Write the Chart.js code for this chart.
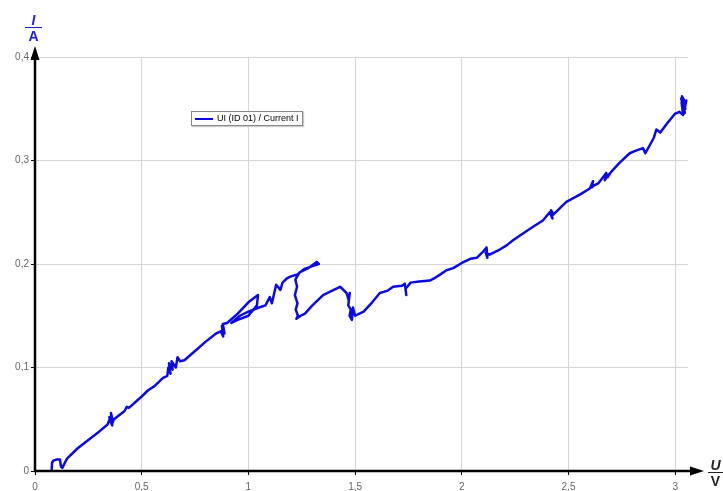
<!DOCTYPE html>
<html>
<head>
<meta charset="utf-8">
<script src="https://cdn.jsdelivr.net/npm/chart.js@4"></script>
<style>
  body { margin: 0; background: #fff; font-family: "Liberation Sans", Arial, sans-serif; }
  #wrap { position: relative; width: 723px; height: 491px; }
  #chart { position: absolute; left: 0; top: 0; }
  .frac { position: absolute; text-align: center; font-size: 14px; line-height: 13px; }
  .frac .num { font-style: italic; font-weight: bold; }
  .frac .den { font-weight: bold; border-top: 1.5px solid currentColor; padding-top: 2px; }
  #ylab { left: 25px; top: 14px; width: 17px; color: #1c1cd6; }
  #xlab { left: 708px; top: 459px; width: 15px; color: #222; }
  #legend { position: absolute; left: 191px; top: 111px; width: 110px; height: 13px;
            border: 1px solid #888; background: #fff; font-size: 9px; line-height: 13px;
            box-shadow: 1px 1px 1px #ccc; white-space: nowrap; }
  #legend span.sw { display: inline-block; width: 18px; height: 0; border-top: 2.5px solid #0a0ae6;
                    vertical-align: middle; margin: 0 4px 0 3px; }
</style>
</head>
<body>
<div id="wrap">
  <canvas id="chart" width="723" height="491"></canvas>
  <div id="ylab" class="frac"><div class="num">I</div><div class="den">A</div></div>
  <div id="xlab" class="frac"><div class="num">U</div><div class="den">V</div></div>
  <div id="legend"></div>
</div>
<script>
const seriesLabel = 'UI (ID 01) / Current I';

const xTicks = [0, 0.5, 1, 1.5, 2, 2.5, 3];
const yTicks = [0, 0.1, 0.2, 0.3, 0.4];

// voltage U (V), in measurement order
const voltage = [
  0.078, 0.080, 0.086, 0.100, 0.117, 0.122, 0.128, 0.150, 0.200, 0.250,
  0.300, 0.340, 0.350, 0.362, 0.356, 0.365, 0.348, 0.360, 0.370, 0.420,
  0.430, 0.440, 0.500, 0.530, 0.560, 0.600, 0.620, 0.625, 0.635, 0.628,
  0.645, 0.640, 0.660, 0.668, 0.680, 0.700, 0.750, 0.800, 0.850, 0.870,
  0.882, 0.876, 0.888, 0.880, 0.900, 0.950, 1.000, 1.045, 1.040, 1.000,
  0.950, 0.920, 0.960, 1.000, 1.050, 1.080, 1.100, 1.110, 1.130, 1.150,
  1.160, 1.180, 1.200, 1.230, 1.260, 1.300, 1.330, 1.320, 1.280, 1.240,
  1.220, 1.228, 1.218, 1.230, 1.222, 1.232, 1.225, 1.245, 1.265, 1.300,
  1.350, 1.400, 1.430, 1.460, 1.470, 1.475, 1.468, 1.480, 1.474, 1.485,
  1.490, 1.500, 1.520, 1.540, 1.580, 1.616, 1.650, 1.678, 1.720, 1.733,
  1.740, 1.736, 1.745, 1.760, 1.800, 1.850, 1.870, 1.900, 1.928, 1.960,
  2.000, 2.040, 2.070, 2.100, 2.116, 2.120, 2.112, 2.130, 2.178, 2.210,
  2.240, 2.290, 2.334, 2.380, 2.412, 2.425, 2.418, 2.430, 2.490, 2.553,
  2.600, 2.615, 2.608, 2.620, 2.640, 2.677, 2.670, 2.690, 2.684, 2.700,
  2.740, 2.787, 2.810, 2.849, 2.860, 2.900, 2.912, 2.930, 2.959, 2.998,
  3.020, 3.037, 3.030, 3.048, 3.028, 3.045, 3.032, 3.050, 3.036, 3.052,
  3.040, 3.045
];

// current I (A)
const current = [
  0.000, 0.008, 0.010, 0.011, 0.011, 0.004, 0.003, 0.012, 0.022, 0.030,
  0.038, 0.045, 0.050, 0.044, 0.056, 0.048, 0.052, 0.045, 0.050, 0.058,
  0.062, 0.061, 0.072, 0.078, 0.082, 0.090, 0.092, 0.100, 0.094, 0.104,
  0.098, 0.106, 0.100, 0.110, 0.106, 0.107, 0.116, 0.125, 0.133, 0.135,
  0.130, 0.140, 0.133, 0.142, 0.143, 0.152, 0.163, 0.170, 0.160, 0.150,
  0.146, 0.143, 0.150, 0.154, 0.158, 0.160, 0.168, 0.162, 0.180, 0.175,
  0.182, 0.186, 0.188, 0.190, 0.195, 0.198, 0.200, 0.202, 0.196, 0.192,
  0.185, 0.178, 0.170, 0.162, 0.156, 0.150, 0.147, 0.150, 0.152, 0.160,
  0.170, 0.175, 0.178, 0.172, 0.165, 0.172, 0.160, 0.156, 0.150, 0.146,
  0.158, 0.150, 0.152, 0.154, 0.163, 0.172, 0.174, 0.178, 0.179, 0.181,
  0.170, 0.176, 0.178, 0.182, 0.183, 0.184, 0.186, 0.190, 0.194, 0.196,
  0.201, 0.205, 0.206, 0.212, 0.216, 0.206, 0.211, 0.209, 0.214, 0.218,
  0.223, 0.230, 0.236, 0.242, 0.250, 0.244, 0.252, 0.248, 0.260, 0.267,
  0.273, 0.280, 0.274, 0.276, 0.278, 0.288, 0.281, 0.287, 0.284, 0.289,
  0.298, 0.307, 0.309, 0.312, 0.307, 0.322, 0.330, 0.327, 0.335, 0.345,
  0.347, 0.344, 0.356, 0.350, 0.360, 0.346, 0.362, 0.355, 0.348, 0.358,
  0.345, 0.347
];

const points = voltage.map((u, i) => ({ x: u, y: current[i] }));
const lineColor = '#0a0ae6';

document.getElementById('legend').innerHTML = '<span class="sw"></span>' + seriesLabel;

const fmt = v => String(v).replace('.', ',');

// axis lines with arrow heads
const arrowAxes = {
  id: 'arrowAxes',
  afterDraw(chart) {
    const { ctx, chartArea: a } = chart;
    ctx.save();
    ctx.strokeStyle = '#000';
    ctx.fillStyle = '#000';
    ctx.lineWidth = 2.5;
    ctx.beginPath();
    ctx.moveTo(a.left, a.bottom + 1);
    ctx.lineTo(a.left, 56);
    ctx.moveTo(a.left - 1, a.bottom);
    ctx.lineTo(696, a.bottom);
    ctx.stroke();
    ctx.beginPath();
    ctx.moveTo(a.left, 46);
    ctx.lineTo(a.left - 4.5, 60);
    ctx.lineTo(a.left + 4.5, 60);
    ctx.closePath();
    ctx.fill();
    ctx.beginPath();
    ctx.moveTo(704, a.bottom);
    ctx.lineTo(690, a.bottom - 4.5);
    ctx.lineTo(690, a.bottom + 4.5);
    ctx.closePath();
    ctx.fill();
    ctx.restore();
  }
};

new Chart(document.getElementById('chart'), {
  type: 'scatter',
  data: {
    datasets: [{
      label: seriesLabel,
      data: points,
      showLine: true,
      borderColor: lineColor,
      backgroundColor: lineColor,
      borderWidth: 2.5,
      borderJoinStyle: 'round',
      borderCapStyle: 'round',
      pointRadius: 0,
      tension: 0
    }]
  },
  options: {
    responsive: false,
    devicePixelRatio: 1,
    animation: false,
    layout: { padding: { top: 57, right: 35, left: 0, bottom: 0 } },
    plugins: { legend: { display: false }, tooltip: { enabled: false } },
    scales: {
      x: {
        type: 'linear',
        min: 0,
        max: 3.06,
        afterBuildTicks: s => { s.ticks = xTicks.map(v => ({ value: v })); },
        afterFit: s => { s.height = 20; },
        grid: { color: '#d6d6d6', lineWidth: 1, tickLength: 4, tickColor: '#000' },
        border: { display: false },
        ticks: {
          color: '#666',
          padding: 6,
          maxRotation: 0,
          font: { family: 'Liberation Sans', size: 10 },
          callback: v => fmt(v)
        }
      },
      y: {
        type: 'linear',
        min: 0,
        max: 0.4,
        afterBuildTicks: s => { s.ticks = yTicks.map(v => ({ value: v })); },
        afterFit: s => { s.width = 35; },
        grid: { color: '#d6d6d6', lineWidth: 1, tickLength: 4, tickColor: '#000' },
        border: { display: false },
        ticks: {
          color: '#666',
          padding: 2,
          font: { family: 'Liberation Sans', size: 10 },
          callback: v => fmt(v)
        }
      }
    }
  },
  plugins: [arrowAxes]
});
</script>
</body>
</html>
